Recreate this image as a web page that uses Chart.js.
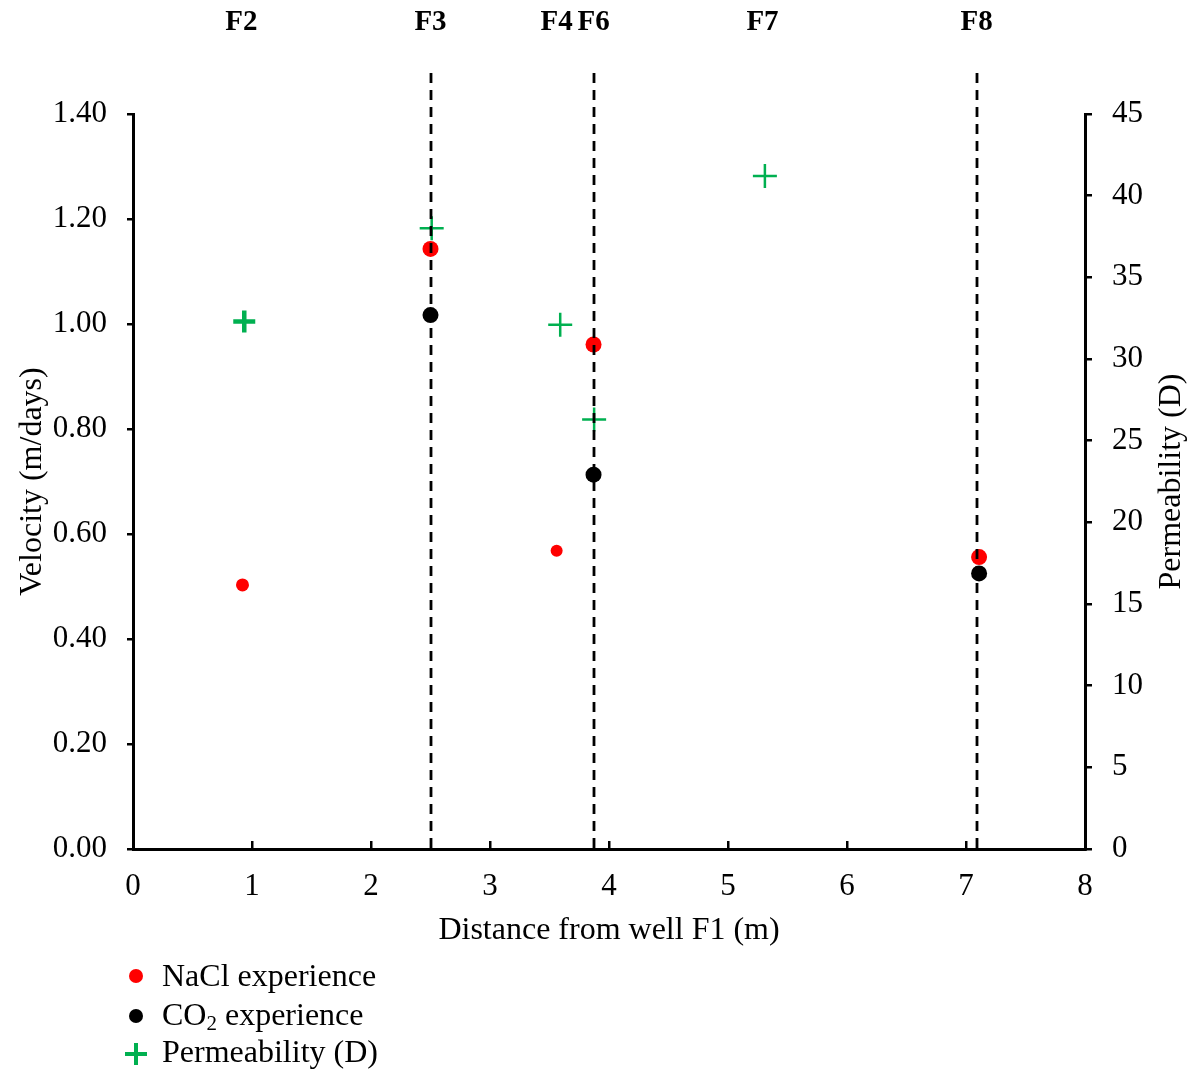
<!DOCTYPE html>
<html>
<head>
<meta charset="utf-8">
<script src="https://cdn.jsdelivr.net/npm/chart.js@4"></script>
<style>
  html, body { margin: 0; padding: 0; background: #fff; }
  #wrap { width: 1196px; height: 1070px; position: relative; }
</style>
</head>
<body>
<div id="wrap"><canvas id="velChart"></canvas></div>
<script>
// Velocity / permeability vs distance from well F1

const naclX = [0.92, 2.50, 3.56, 3.87, 7.11];
const naclY = [0.503, 1.143, 0.568, 0.961, 0.556];
const co2X = [2.50, 3.87, 7.11];
const co2Y = [1.017, 0.713, 0.525];
const permX = [0.935, 2.51, 3.59, 3.875, 5.31];
const permY = [32.3, 38.0, 32.1, 26.3, 41.2];

const wellNames = ['F2', 'F3', 'F4', 'F6', 'F7', 'F8'];
const wellX = [0.91, 2.50, 3.56, 3.87, 5.29, 7.09];
const dashedWells = ['F3', 'F6', 'F8'];

const legendLabels = ['NaCl experience', 'CO2 experience', 'Permeability (D)'];

const SERIF = '"Liberation Serif", "Times New Roman", serif';
const GREEN = '#00B050';

const toPts = (xs, ys) => xs.map((x, i) => ({ x: x, y: ys[i] }));

const overlay = {
    id: 'overlay',
    afterDraw(chart) {
        const ctx = chart.ctx;
        const xs = chart.scales.x;
        const area = chart.chartArea;
        ctx.save();

        // dashed well lines, drawn over the markers
        ctx.strokeStyle = '#000';
        ctx.lineWidth = 2.8;
        ctx.setLineDash([10, 7]);
        wellNames.forEach((w, i) => {
            if (!dashedWells.includes(w)) return;
            const px = Math.round(xs.getPixelForValue(wellX[i]));
            ctx.beginPath();
            ctx.moveTo(px, 73);
            ctx.lineTo(px, area.bottom);
            ctx.stroke();
        });
        ctx.setLineDash([]);

        // well names on top
        ctx.fillStyle = '#000';
        ctx.font = 'bold 29px ' + SERIF;
        ctx.textAlign = 'center';
        ctx.textBaseline = 'middle';
        wellNames.forEach((w, i) => {
            ctx.fillText(w, xs.getPixelForValue(wellX[i]), 23);
        });

        // right axis title, reading bottom to top
        ctx.font = '32px ' + SERIF;
        ctx.translate(1172, (area.top + area.bottom) / 2);
        ctx.rotate(-Math.PI / 2);
        ctx.fillText('Permeability (D)', 0, 0);
        ctx.setTransform(1, 0, 0, 1, 0, 0);

        // legend
        const lx = 136, tx = 162;
        const rows = [978, 1017, 1054];
        ctx.textAlign = 'left';
        ctx.textBaseline = 'middle';
        ctx.font = '32px ' + SERIF;

        ctx.fillStyle = '#FF0000';
        ctx.beginPath(); ctx.arc(lx, rows[0] - 2, 7, 0, Math.PI * 2); ctx.fill();
        ctx.fillStyle = '#000';
        ctx.fillText(legendLabels[0], tx, rows[0]);

        ctx.beginPath(); ctx.arc(lx, rows[1] - 1, 7, 0, Math.PI * 2); ctx.fill();
        const parts = legendLabels[1].split('2');
        ctx.fillText(parts[0], tx, rows[1]);
        let w = ctx.measureText(parts[0]).width;
        ctx.font = '21px ' + SERIF;
        ctx.fillText('2', tx + w, rows[1] + 7);
        w += ctx.measureText('2').width;
        ctx.font = '32px ' + SERIF;
        ctx.fillText(parts[1], tx + w, rows[1]);

        ctx.strokeStyle = GREEN;
        ctx.lineWidth = 4;
        ctx.beginPath();
        ctx.moveTo(lx - 11, rows[2]); ctx.lineTo(lx + 11, rows[2]);
        ctx.moveTo(lx, rows[2] - 11); ctx.lineTo(lx, rows[2] + 11);
        ctx.stroke();
        ctx.fillText(legendLabels[2], tx, rows[2]);

        ctx.restore();
    }
};

const tickFont = { family: SERIF, size: 31 };
const titleFont = { family: SERIF, size: 32 };

new Chart(document.getElementById('velChart').getContext('2d'), {
    type: 'scatter',
    data: {
        datasets: [
            {
                label: legendLabels[0],
                data: toPts(naclX, naclY),
                backgroundColor: '#FF0000',
                borderWidth: 0,
                pointRadius: [6.5, 8, 6, 8, 8],
                yAxisID: 'y'
            },
            {
                label: legendLabels[1],
                data: toPts(co2X, co2Y),
                backgroundColor: '#000',
                borderWidth: 0,
                pointRadius: 8,
                yAxisID: 'y'
            },
            {
                label: legendLabels[2],
                data: toPts(permX, permY),
                pointStyle: 'cross',
                borderColor: GREEN,
                backgroundColor: GREEN,
                borderWidth: [4.5, 2.5, 2.5, 2.5, 2.5],
                pointRadius: [11, 12, 12, 12, 12],
                yAxisID: 'y1'
            }
        ]
    },
    options: {
        responsive: true,
        maintainAspectRatio: false,
        animation: false,
        layout: { padding: { top: 114, left: 0, right: 0, bottom: 111 } },
        plugins: { legend: { display: false }, tooltip: { enabled: false } },
        scales: {
            x: {
                type: 'linear',
                position: 'bottom',
                min: 0, max: 8,
                ticks: { stepSize: 1, font: tickFont, color: '#000', padding: 27 },
                grid: { drawOnChartArea: false, drawTicks: true, tickLength: -8, color: '#000', lineWidth: 2.5 },
                border: { display: true, color: '#000', width: 3 },
                title: { display: true, text: 'Distance from well F1 (m)', font: titleFont, color: '#000', padding: { top: 0, bottom: 9 } },
                afterFit: s => { s.height = 110; }
            },
            y: {
                type: 'linear',
                position: 'left',
                min: 0, max: 1.4,
                ticks: { stepSize: 0.2, font: tickFont, color: '#000', padding: 20, callback: v => Number(v).toFixed(2) },
                grid: { drawOnChartArea: false, drawTicks: true, tickLength: 6, color: '#000', lineWidth: 2.5 },
                border: { display: true, color: '#000', width: 3 },
                title: { display: true, text: 'Velocity (m/days)', font: titleFont, color: '#000', padding: { top: 13, bottom: 0 } },
                afterFit: s => { s.width = 133; }
            },
            y1: {
                type: 'linear',
                position: 'right',
                min: 0, max: 45,
                ticks: { stepSize: 5, font: tickFont, color: '#000', padding: 20 },
                grid: { drawOnChartArea: false, drawTicks: true, tickLength: 7, color: '#000', lineWidth: 2.5 },
                border: { display: true, color: '#000', width: 3 },
                afterFit: s => { s.width = 111; }
            }
        }
    },
    plugins: [overlay]
});
</script>
</body>
</html>
